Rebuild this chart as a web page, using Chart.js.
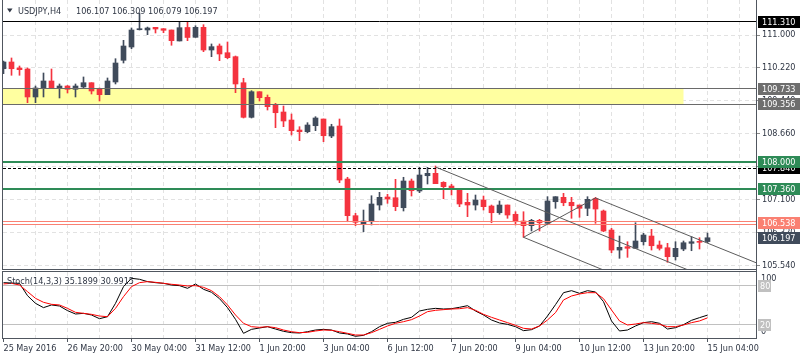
<!DOCTYPE html>
<html>
<head>
<meta charset="utf-8">
<title>USDJPY H4</title>
<script src="https://cdn.jsdelivr.net/npm/chart.js@4.4.1/dist/chart.umd.min.js"></script>
<style>
html, body { margin:0; padding:0; background:#ffffff; }
#wrap { position:relative; width:800px; height:360px; overflow:hidden; background:#ffffff; }
canvas { position:absolute; left:0; }
#mainChart { top:0; width:800px; height:270px; }
#stochChart { top:270px; width:800px; height:90px; }
</style>
</head>
<body>
<div id="wrap">
<canvas id="mainChart" width="800" height="270"></canvas>
<canvas id="stochChart" width="800" height="90"></canvas>
</div>
<script>
// ---------------- DATA ----------------
const symbolName = "USDJPY,H4";
const xLabels = ["25 May 2016","26 May 20:00","30 May 04:00","31 May 12:00","1 Jun 20:00","3 Jun 04:00","6 Jun 12:00","7 Jun 20:00","9 Jun 04:00","10 Jun 12:00","13 Jun 20:00","15 Jun 04:00"];
const xLabelBars = [0, 8, 16, 24, 32, 40, 48, 56, 64, 72, 80, 88];
const priceTicks = [111.000, 110.220, 109.440, 108.660, 107.880, 107.100, 106.320, 105.540];

const opens = [110.203,110.362,110.220,110.196,109.533,109.746,109.912,109.746,109.793,109.715,
  109.770,109.871,109.715,109.587,109.888,110.402,110.717,111.127,111.120,111.184,
  111.151,111.120,110.860,111.180,110.947,111.184,110.646,110.741,110.582,110.488,
  109.871,109.051,109.658,109.525,109.336,109.177,108.987,108.750,108.710,108.852,
  109.011,108.608,108.845,107.589,106.720,106.530,106.577,106.973,107.163,107.146,
  106.909,107.542,107.305,107.667,107.724,107.511,107.423,107.369,107.037,106.973,
  107.091,106.949,106.790,106.973,106.753,106.594,106.483,106.610,106.539,107.051,
  107.155,107.037,106.973,106.895,107.127,106.831,106.380,105.906,105.985,105.947,
  106.103,106.238,106.025,105.961,105.748,105.930,106.065,106.103,106.107];
const highs = [110.386,110.457,110.267,110.220,109.793,110.101,110.196,109.841,109.805,109.841,
  110.007,109.871,109.746,109.983,110.440,110.876,111.168,111.523,111.190,111.184,
  111.151,111.120,111.310,111.310,111.222,111.246,110.789,110.789,110.836,110.504,
  109.976,109.682,109.658,109.580,109.383,109.319,109.130,108.829,108.924,109.066,
  109.011,108.886,109.011,107.630,106.776,106.854,107.193,107.274,107.227,107.582,
  107.630,107.589,107.866,107.866,107.897,107.525,107.464,107.369,107.250,107.210,
  107.186,106.973,107.068,106.973,106.814,106.814,106.634,106.634,107.170,107.170,
  107.250,107.155,106.973,107.170,107.155,106.854,106.421,106.238,106.103,106.553,
  106.302,106.397,106.120,106.065,106.103,106.120,106.222,106.198,106.309];
const lows = [110.085,110.047,110.047,109.398,109.398,109.533,109.746,109.509,109.627,109.533,
  109.746,109.604,109.438,109.587,109.841,110.338,110.677,111.120,111.009,111.049,
  111.056,110.758,110.860,110.867,110.947,110.606,110.488,110.393,110.440,109.635,
  109.035,109.035,109.438,109.224,108.805,108.829,108.632,108.497,108.686,108.734,
  108.473,108.568,107.502,106.577,106.483,106.340,106.500,106.854,107.013,106.838,
  106.831,107.186,107.265,107.471,107.478,107.122,107.210,106.933,106.696,106.854,
  106.854,106.553,106.753,106.658,106.500,106.208,106.357,106.357,106.539,106.895,
  106.956,106.658,106.682,106.720,106.539,106.340,105.842,105.710,105.733,105.947,
  106.025,105.906,105.906,105.615,105.669,105.890,105.890,105.930,106.079];
const closes = [110.362,110.203,110.180,109.533,109.746,109.912,109.746,109.793,109.715,109.793,
  109.871,109.675,109.587,109.912,110.338,110.741,111.120,111.151,111.168,111.144,
  111.113,110.867,111.175,110.943,111.184,110.646,110.725,110.552,110.464,109.841,
  109.051,109.658,109.516,109.303,109.160,108.964,108.734,108.710,108.869,109.035,
  108.615,108.829,107.565,106.720,106.563,106.594,106.997,107.155,107.115,106.933,
  107.542,107.312,107.684,107.724,107.478,107.407,107.345,106.997,106.973,107.091,
  106.933,106.790,106.973,106.736,106.577,106.483,106.610,106.553,107.068,107.170,
  107.027,106.956,106.895,107.108,106.878,106.357,105.906,105.970,105.947,106.120,
  106.262,106.008,105.947,105.748,105.947,106.079,106.103,106.089,106.197];

const stochK = [85.1,84.6,84.0,65.1,53.3,46.7,50.8,49.2,42.1,36.9,
  37.9,35.4,29.7,32.8,53.3,79.0,91.8,90.3,86.7,85.1,
  84.1,81.5,80.5,76.4,83.1,74.9,70.3,60.5,46.7,28.7,
  7.2,13.3,15.4,17.4,13.8,10.3,8.2,7.7,9.7,12.3,
  13.3,12.3,7.7,6.2,2.6,4.1,9.7,17.4,22.6,24.1,
  28.7,31.8,41.5,44.1,45.6,44.6,45.1,47.2,49.7,41.5,
  35.4,27.7,23.1,21.0,17.4,11.3,12.8,18.5,33.8,51.3,
  69.7,72.8,68.7,72.8,70.8,55.9,26.2,10.8,12.3,18.5,
  23.6,25.1,22.6,13.8,15.9,20.5,27.2,31.3,35.1899];
const stochD = [83.1,84.1,81.5,71.3,61.0,54.9,51.8,50.8,45.6,39.5,
  37.9,36.4,33.8,32.8,45.6,63.6,79.0,85.1,86.7,85.6,
  84.1,82.6,81.5,80.0,80.5,77.9,72.8,63.6,50.8,35.4,
  22.6,17.4,16.4,17.4,15.9,12.3,9.7,8.2,8.7,10.8,
  12.3,11.8,9.7,7.2,4.6,4.6,8.2,13.3,18.5,22.6,
  25.1,28.2,33.8,40.5,42.6,43.6,44.6,45.1,46.7,42.6,
  36.4,31.8,27.7,23.6,19.5,14.9,13.8,18.5,27.7,39.0,
  58.5,64.6,67.7,69.7,69.7,60.5,43.1,26.2,20.0,21.5,
  23.6,22.6,21.0,17.4,17.4,20.0,23.6,26.2,30.9915];
const stochParams = "Stoch(14,3,3)";
const stochLevels = [80, 20];

// drawn objects (price levels and trend lines, in bar index / price units)
const topLine = 111.310;
const zoneHigh = 109.733, zoneLow = 109.356, zoneEndBar = 85;
const resistance = 108.000;
const prevHigh = 107.846;
const support = 107.360;
const supportLines = [106.571, 106.516];
const supportLabel = 106.538;
const channelRays = [
  [[54, 107.874], [85.19, 105.464]],
  [[74, 107.140], [94.15, 105.599]],
  [[65, 106.208], [74.59, 105.464]]
];
const channelSegments = [
  [[65, 106.208], [74, 107.140]]
];

// ---------------- STYLE / LAYOUT ----------------
const FONT_FAMILY = "'DejaVu Sans Condensed', 'Liberation Sans', Arial, sans-serif";
const FONT_SIZE = 9;
const TEXT = '#2f3644';
const FRAME = '#50565f';
const GRID = '#e2e2e2';
const BULL = '#404b5b';
const BEAR = '#f4333f';
const X_MIN = -0.0625, X_MAX = 94.0625;     // 8 px per bar, area 3..756
const Y_MIN = 105.433, Y_MAX = 111.831;
const STOCH_MAX = 101.5;
const GRID_STEP = 4;

Chart.defaults.font.family = FONT_FAMILY;
Chart.defaults.font.size = FONT_SIZE;
Chart.defaults.color = TEXT;

const bars = opens.map((_, i) => i);
const candleColor = i => (closes[i] >= opens[i] ? BULL : BEAR);
const crisp = v => Math.round(v - 0.5) + 0.5;
const fontStr = () => FONT_SIZE + 'px ' + FONT_FAMILY;

function line(ctx, x0, y0, x1, y1, color, width, dash) {
  ctx.save();
  ctx.strokeStyle = color; ctx.lineWidth = width; ctx.setLineDash(dash || []);
  ctx.beginPath(); ctx.moveTo(x0, y0); ctx.lineTo(x1, y1); ctx.stroke();
  ctx.restore();
}
function hLine(ctx, area, y, color, width, dash, x1) {
  const yy = (width % 2 === 1) ? crisp(y) : Math.round(y);
  line(ctx, area.left, yy, x1 === undefined ? area.right : x1, yy, color, width, dash);
}
function tag(ctx, y, text, bg, fg, w) {
  const yy = Math.round(y);
  ctx.save();
  ctx.fillStyle = bg; ctx.fillRect(758, yy - 6, w || 42, 12);
  ctx.fillStyle = fg; ctx.font = fontStr(); ctx.textBaseline = 'middle'; ctx.textAlign = 'left';
  ctx.fillText(text, w ? 760 : 762, yy + 0.5);
  ctx.restore();
}
function clipArea(ctx, a) {
  ctx.beginPath(); ctx.rect(a.left, a.top, a.right - a.left, a.bottom - a.top); ctx.clip();
}
function vGrid(ctx, a, x) {
  for (let b = GRID_STEP; b < X_MAX; b += GRID_STEP) {
    const px = crisp(x.getPixelForValue(b));
    line(ctx, px, a.top, px, a.bottom, GRID, 1, [4, 3]);
  }
}

const mainDeco = {
  id: 'mainDeco',
  beforeDatasetsDraw(chart) {
    const { ctx, chartArea: a, scales: { x, y } } = chart;
    ctx.save(); clipArea(ctx, a);
    vGrid(ctx, a, x);
    priceTicks.forEach(p => hLine(ctx, a, y.getPixelForValue(p), GRID, 1, [4, 3]));
    const yt = y.getPixelForValue(zoneHigh), yb = y.getPixelForValue(zoneLow);
    ctx.fillStyle = '#ffffa0';
    ctx.fillRect(a.left, yt, x.getPixelForValue(zoneEndBar) - a.left, yb - yt);
    ctx.restore();
  },
  afterDatasetsDraw(chart) {
    const { ctx, chartArea: a, scales: { x, y } } = chart;
    ctx.save(); clipArea(ctx, a);
    hLine(ctx, a, y.getPixelForValue(zoneHigh), '#6a6a6a', 1);
    hLine(ctx, a, y.getPixelForValue(zoneLow), '#6a6a6a', 1);
    hLine(ctx, a, y.getPixelForValue(topLine), '#000000', 1);
    hLine(ctx, a, y.getPixelForValue(resistance), '#2e8b57', 2);
    hLine(ctx, a, y.getPixelForValue(prevHigh), '#000000', 1, [3, 2]);
    hLine(ctx, a, y.getPixelForValue(support), '#2e8b57', 2);
    supportLines.forEach(p => hLine(ctx, a, y.getPixelForValue(p), '#fa8072', 1));
    channelRays.forEach(([p0, p1]) => {
      const slope = (p1[1] - p0[1]) / (p1[0] - p0[0]);
      const endV = p0[1] + slope * (X_MAX - p0[0]);
      line(ctx, x.getPixelForValue(p0[0]), y.getPixelForValue(p0[1]),
        x.getPixelForValue(X_MAX), y.getPixelForValue(endV), '#5c5c5c', 1);
    });
    channelSegments.forEach(([p0, p1]) => {
      line(ctx, x.getPixelForValue(p0[0]), y.getPixelForValue(p0[1]),
        x.getPixelForValue(p1[0]), y.getPixelForValue(p1[1]), '#5c5c5c', 1);
    });
    ctx.restore();
  },
  afterDraw(chart) {
    const { ctx, scales: { y } } = chart;
    line(ctx, 2.5, 0, 2.5, 270, FRAME, 1);
    line(ctx, 2, 269.5, 757, 269.5, FRAME, 1);
    line(ctx, 756.5, 0, 756.5, 270, FRAME, 1);
    priceTicks.forEach(p => { const yy = crisp(y.getPixelForValue(p)); line(ctx, 757, yy, 760, yy, '#8a8a8a', 1); });
    tag(ctx, y.getPixelForValue(zoneHigh), zoneHigh.toFixed(3), '#6e6e6e', '#ffffff');
    tag(ctx, y.getPixelForValue(zoneLow), zoneLow.toFixed(3), '#6e6e6e', '#ffffff');
    tag(ctx, y.getPixelForValue(topLine), topLine.toFixed(3), '#000000', '#ffffff');
    tag(ctx, y.getPixelForValue(prevHigh), prevHigh.toFixed(3), '#000000', '#ffffff');
    tag(ctx, y.getPixelForValue(resistance), resistance.toFixed(3), '#2e8b57', '#ffffff');
    tag(ctx, y.getPixelForValue(support), support.toFixed(3), '#2e8b57', '#ffffff');
    tag(ctx, y.getPixelForValue(supportLabel), supportLabel.toFixed(3), '#fa8072', '#ffffff');
    const last = closes.length - 1;
    tag(ctx, y.getPixelForValue(closes[last]), closes[last].toFixed(3), BULL, '#ffffff');
    ctx.save();
    ctx.fillStyle = TEXT;
    ctx.beginPath(); ctx.moveTo(7, 8.5); ctx.lineTo(12.5, 8.5); ctx.lineTo(9.75, 12.5); ctx.closePath(); ctx.fill();
    ctx.font = fontStr(); ctx.textBaseline = 'alphabetic'; ctx.textAlign = 'left';
    ctx.fillText(symbolName, 18, 14);
    ctx.fillText([opens[last], highs[last], lows[last], closes[last]].map(v => v.toFixed(3)).join(' '), 76, 14);
    ctx.restore();
  }
};

const stochDeco = {
  id: 'stochDeco',
  beforeDatasetsDraw(chart) {
    const { ctx, chartArea: a, scales: { x, y } } = chart;
    ctx.save(); clipArea(ctx, a);
    vGrid(ctx, a, x);
    stochLevels.forEach(v => hLine(ctx, a, y.getPixelForValue(v), '#c0c0c0', 1));
    ctx.restore();
  },
  afterDraw(chart) {
    const { ctx, scales: { x, y } } = chart;
    line(ctx, 2.5, 1, 2.5, 69, FRAME, 1);
    line(ctx, 2, 1.5, 757, 1.5, FRAME, 1);
    line(ctx, 2, 68.5, 757, 68.5, FRAME, 1);
    line(ctx, 756.5, 0, 756.5, 69, FRAME, 1);
    xLabelBars.forEach(b => { const px = crisp(x.getPixelForValue(b)); line(ctx, px, 69, px, 72, FRAME, 1); });
    ctx.save();
    ctx.font = fontStr(); ctx.fillStyle = TEXT; ctx.textAlign = 'left'; ctx.textBaseline = 'alphabetic';
    const last = stochK.length - 1;
    ctx.fillText(stochParams + ' ' + stochK[last].toFixed(4) + ' ' + stochD[last].toFixed(4), 7, 13.5);
    ctx.textBaseline = 'middle';
    ctx.fillText('100', 761, Math.round(y.getPixelForValue(100)) + 6);
    ctx.fillText('0', 761, Math.round(y.getPixelForValue(0)) - 6);
    ctx.restore();
    stochLevels.forEach(v => tag(ctx, y.getPixelForValue(v), String(v), '#c0c0c0', '#ffffff', 13));
  }
};

new Chart(document.getElementById('mainChart'), {
  type: 'bar',
  data: {
    datasets: [
      { label: 'wick', data: bars.map(i => ({ x: i, y: [lows[i], highs[i]] })),
        backgroundColor: c => candleColor(c.dataIndex), grouped: false,
        barPercentage: 1, categoryPercentage: 1, maxBarThickness: 1, order: 1, clip: 0, borderWidth: 0 },
      { label: 'body', data: bars.map(i => ({ x: i, y: [opens[i], closes[i]] })),
        backgroundColor: c => candleColor(c.dataIndex), grouped: false,
        barPercentage: 1, categoryPercentage: 1, maxBarThickness: 5, minBarLength: 1, order: 0, clip: 0, borderWidth: 0 }
    ]
  },
  options: {
    responsive: false, animation: false, events: [],
    layout: { padding: { left: 3, right: 0, top: 0, bottom: 0 } },
    plugins: { legend: { display: false }, tooltip: { enabled: false } },
    scales: {
      x: { type: 'linear', min: X_MIN, max: X_MAX, offset: false, display: false },
      y: { type: 'linear', position: 'right', min: Y_MIN, max: Y_MAX,
        afterBuildTicks: s => { s.ticks = priceTicks.map(v => ({ value: v })); },
        afterFit: s => { s.width = 44; s.paddingTop = 0; s.paddingBottom = 0; },
        ticks: { callback: v => Number(v).toFixed(3), padding: 6, color: TEXT, autoSkip: false },
        grid: { display: false, drawTicks: false, tickLength: 0 }, border: { display: false } }
    }
  },
  plugins: [mainDeco]
});

new Chart(document.getElementById('stochChart'), {
  type: 'line',
  data: {
    datasets: [
      { label: '%K', data: bars.map(i => ({ x: i, y: stochK[i] })), borderColor: '#000000',
        borderWidth: 1, pointRadius: 0, tension: 0, order: 1, clip: 0 },
      { label: '%D', data: bars.map(i => ({ x: i, y: stochD[i] })), borderColor: '#ff0000',
        borderWidth: 1, pointRadius: 0, tension: 0, order: 0, clip: 0 }
    ]
  },
  options: {
    responsive: false, animation: false, events: [],
    layout: { padding: { left: 3, right: 0, top: 2, bottom: 0 } },
    plugins: { legend: { display: false }, tooltip: { enabled: false } },
    scales: {
      x: { type: 'linear', min: X_MIN, max: X_MAX, offset: false, position: 'bottom',
        afterBuildTicks: s => { s.ticks = xLabelBars.map(v => ({ value: v })); },
        afterFit: s => { s.height = 22; s.paddingLeft = 0; s.paddingRight = 0; },
        ticks: { autoSkip: false, maxRotation: 0, minRotation: 0, align: 'start', padding: 5,
          color: TEXT, callback: (v, i) => xLabels[i] },
        grid: { display: false, drawTicks: false, tickLength: 0 }, border: { display: false } },
      y: { type: 'linear', position: 'right', min: 0, max: STOCH_MAX,
        afterFit: s => { s.width = 44; s.paddingTop = 0; s.paddingBottom = 0; },
        ticks: { display: false }, grid: { display: false, drawTicks: false }, border: { display: false } }
    }
  },
  plugins: [stochDeco]
});
</script>
</body>
</html>
